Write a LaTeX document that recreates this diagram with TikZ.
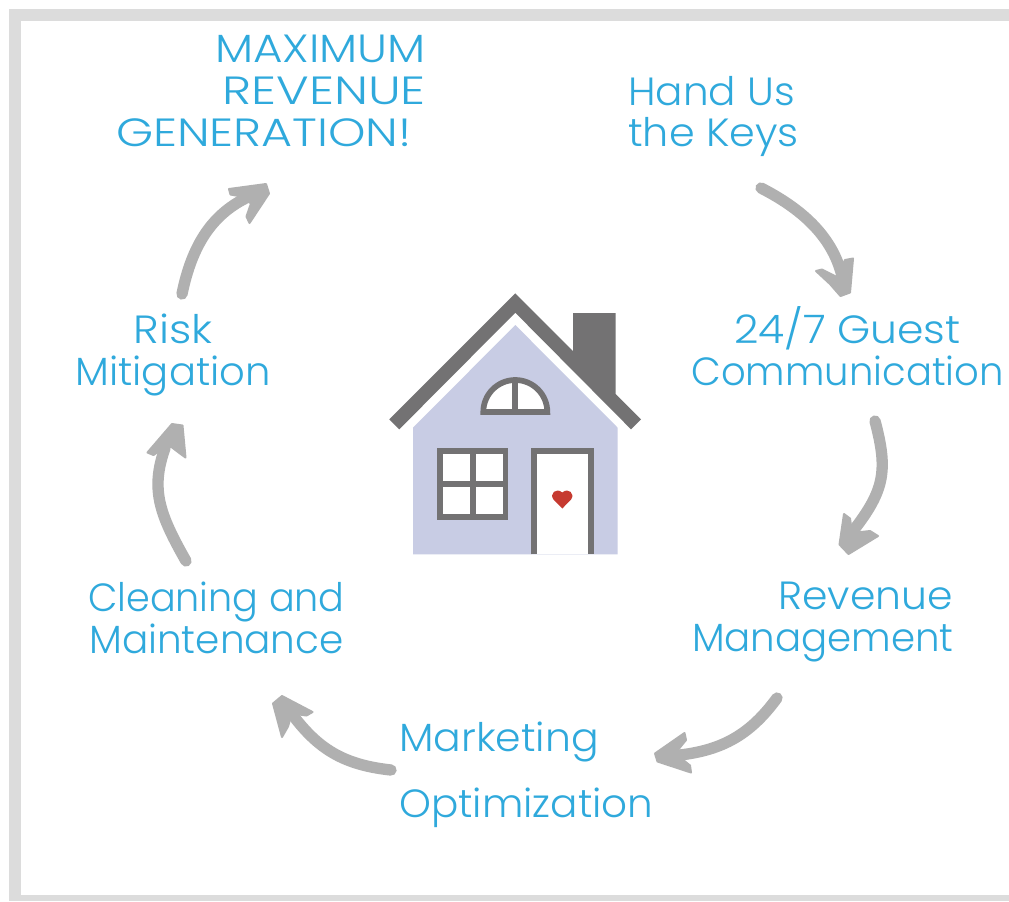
\documentclass[tikz,border=0pt]{standalone}
\usepackage{fontspec}
\usepackage{graphicx}
\setmainfont{Poppins}[UprightFont=* Light]
\definecolor{lbl}{HTML}{2FA9DC}
\definecolor{arrowc}{HTML}{B0B0B0}
\definecolor{framec}{HTML}{DCDCDC}
\definecolor{housec}{HTML}{C8CCE4}
\definecolor{roofc}{HTML}{737273}
\definecolor{heartc}{HTML}{C63A30}
\newcommand{\sx}[2]{\scalebox{#1}[1]{#2}}
\tikzset{
 lab/.style={text=lbl,font=\fontsize{29.5}{31}\selectfont,inner sep=0pt,anchor=base west},
 labr/.style={lab,anchor=base east},
 hand/.style={draw=arrowc,line width=8.5pt,line cap=round,line join=round},
 tip/.style={draw=arrowc,fill=arrowc,line width=1.5pt,line join=round},
 fr/.style={draw=roofc,line width=4.3pt},
}
\begin{document}
\begin{tikzpicture}[x=0.75pt,y=-0.75pt]
\useasboundingbox (0,0) rectangle (1009,901);
\fill[framec] (9,9) rectangle (1009,901);
\fill[white] (21,21) rectangle (1009,895);
% labels
\node[labr] (m1) at (426,62) {\sx{1.15}{MAXIMUM}};
\node[labr] (m2) at (426,104) {\sx{1.26}{REVENUE}};
\node[labr] (m3) at (412,146) {\sx{1.21}{GENERATION!}};
\node[lab] (k1) at (628,105) {\sx{1.03}{Hand Us}};
\node[lab] (k2) at (628,146) {\sx{1.05}{the Keys}};
\node[labr] (g1) at (961,343) {\sx{1.08}{24/7 Guest}};
\node[labr] (g2) at (1004,385) {\sx{0.98}{Communication}};
\node[labr] (r1) at (953,609) {\sx{1.04}{Revenue}};
\node[labr] (r2) at (954,651) {\sx{0.985}{Management}};
\node[lab] (o1) at (399,751) {\sx{1.04}{Marketing}};
\node[lab] (o2) at (399,817) {\sx{1.03}{Optimization}};
\node[labr] (c1) at (345,611) {\sx{0.97}{Cleaning and}};
\node[labr] (c2) at (344,653) {\sx{0.99}{Maintenance}};
\node[labr] (s1) at (213,343) {\sx{1.11}{Risk}};
\node[labr] (s2) at (271,385) {\sx{1.02}{Mitigation}};
% arrow ends
\coordinate (a1s) at (761,188); \coordinate (a1e) at (842,276);
\coordinate (a2s) at (875,421); \coordinate (a2e) at (853,531);
\coordinate (a3s) at (777,698); \coordinate (a3e) at (680,755);
\coordinate (a4s) at (391,770); \coordinate (a4e) at (295,718);
\coordinate (a5s) at (186,561); \coordinate (a5e) at (165,448);
\coordinate (a6s) at (182,294); \coordinate (a6e) at (246,198);
% arrows
\draw[hand] (a1s) .. controls (800,208) and (832,235) .. (a1e);
\filldraw[tip] (816,271) -- (822,269.5) -- (837,277) -- (845,260) -- (853,258.5) -- (850,292.5) -- (840.5,296) -- (830,284) -- cycle;
\draw[hand] (a2s) .. controls (888,470) and (885,490) .. (a2e);
\filldraw[tip] (844,514) -- (850,518.5) -- (852,533) -- (870,531) -- (878,536) -- (848.5,554) -- (839.5,544.5) -- cycle;
\draw[hand] (a3s) .. controls (750,735) and (722,750) .. (a3e);
\filldraw[tip] (684.5,733) -- (686,740) -- (675,753.5) -- (690,765.5) -- (691,772.5) -- (657.5,761.5) -- (655,753.5) -- cycle;
\draw[hand] (a4s) .. controls (345,765) and (320,750) .. (a4e);
\filldraw[tip] (312.5,712) -- (306.5,715.5) -- (291.7,713.5) -- (288,726.5) -- (282,737) -- (273,703.5) -- (282,696) -- cycle;
\draw[hand] (a5s) .. controls (160,515) and (150,490) .. (a5e);
\filldraw[tip] (147.5,452.5) -- (153.5,455) -- (163.5,448) -- (171.5,447) -- (180,453.5) -- (185.5,457.5) -- (182.5,425.5) -- (172,424) -- cycle;
\draw[hand] (a6s) .. controls (192,245) and (212,215) .. (a6e);
\filldraw[tip] (229,189) -- (230.5,194.5) -- (241.5,196.5) -- (251,203.5) -- (246.5,216.5) -- (249.5,223) -- (269,193.5) -- (266,184) -- cycle;
% house
\fill[housec] (515.3,325) -- (617.7,427.7) -- (617.7,554.3) -- (413,554.3) -- (413,427.7) -- cycle;
\fill[roofc] (573,313) -- (615.7,313) -- (615.7,394) -- (641,419.3) -- (631,429.3) -- (515.3,312.7) -- (399.3,429.3) -- (389.3,419.3) -- (515.3,293.3) -- (573,351) -- cycle;
\path[fill=white,fr] (483.3,412) arc[start angle=180,end angle=360,radius=32] -- cycle;
\draw[fr] (515.3,378) -- (515.3,412);
\draw[fr,fill=white] (440,451) rectangle (505.5,517);
\draw[fr] (472.7,451) -- (472.7,517) (440,484) -- (505.5,484);
\path[fill=white] (534,451) rectangle (591,554.3);
\draw[fr] (534,554.3) -- (534,451) -- (591,451) -- (591,554.3);
\fill[heartc] (562.3,508.5) -- (553.5,499.5) .. controls (549,494) and (556,487) .. (562.3,492.5) .. controls (568.5,487) and (575.5,494) .. (571,499.5) -- cycle;
\end{tikzpicture}
\end{document}
